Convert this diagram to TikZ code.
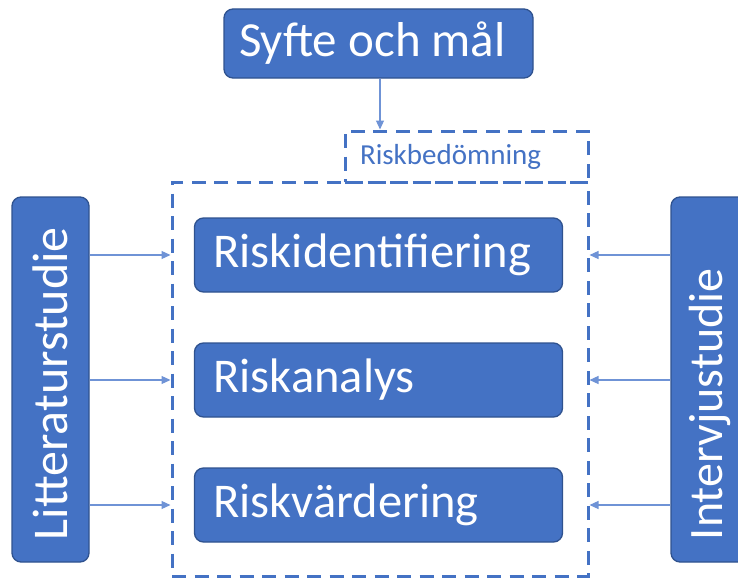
\documentclass[tikz,border=0pt]{standalone}
\usepackage{fontspec}
\setmainfont{Carlito}
\usetikzlibrary{arrows.meta}
\definecolor{boxblue}{HTML}{4472C4}
\definecolor{boxedge}{HTML}{2F528F}
\definecolor{pilblue}{HTML}{6F93D6}
\begin{document}
\begin{tikzpicture}[x=1pt,y=-1pt]
\tikzstyle{stepbox}=[draw=boxedge,line width=1.3pt,fill=boxblue,rounded corners=9pt,text=white,align=left,font=\fontsize{49}{54}\selectfont]
\tikzstyle{sidebox}=[stepbox,minimum width=365pt,minimum height=77pt,text width=321pt,inner xsep=22pt,rotate=90]
\tikzstyle{riskbox}=[stepbox,minimum width=368pt,minimum height=74pt,text width=330pt,inner xsep=19pt,font=\fontsize{48.5}{53}\selectfont]
\tikzstyle{ram}=[draw=boxblue,line width=3pt,dash pattern=on 14pt off 8.5pt]
\tikzstyle{pil}=[draw=pilblue,line width=1.2pt,-{Triangle[length=9pt,width=8pt]}]
\useasboundingbox (0,0) rectangle (738,578);
\path (378.5,43.5) node[stepbox,minimum width=309pt,minimum height=69pt,inner xsep=15pt](syfte){\makebox[279pt][l]{Syfte och mål}};
\path (466.5,156.5) node[ram,minimum width=243pt,minimum height=51pt,text width=213pt,inner xsep=15pt,align=left,text=boxblue,font=\fontsize{29}{32}\selectfont](bed){Riskbedömning};
\path (380,379) node[ram,minimum width=416pt,minimum height=394pt](ram){};
\path (378.5,255) node[riskbox](id){Riskidentifiering};
\path (378.5,380) node[riskbox](an){Riskanalys};
\path (378.5,505) node[riskbox](va){Riskvärdering};
\path (50.5,379.5) node[sidebox,font=\fontsize{50}{55}\selectfont](lit){Litteraturstudie};
\path (709.5,379.5) node[sidebox,font=\fontsize{48}{53}\selectfont](int){Intervjustudie};
\draw[pil] (syfte.south -| 380,0) -- (bed.north -| 380,0);
\draw[pil] (lit.south |- id) -- (ram.west |- id);
\draw[pil] (lit.south |- an) -- (ram.west |- an);
\draw[pil] (lit.south |- va) -- (ram.west |- va);
\draw[pil] (int.north |- id) -- (ram.east |- id);
\draw[pil] (int.north |- an) -- (ram.east |- an);
\draw[pil] (int.north |- va) -- (ram.east |- va);
\end{tikzpicture}
\end{document}
